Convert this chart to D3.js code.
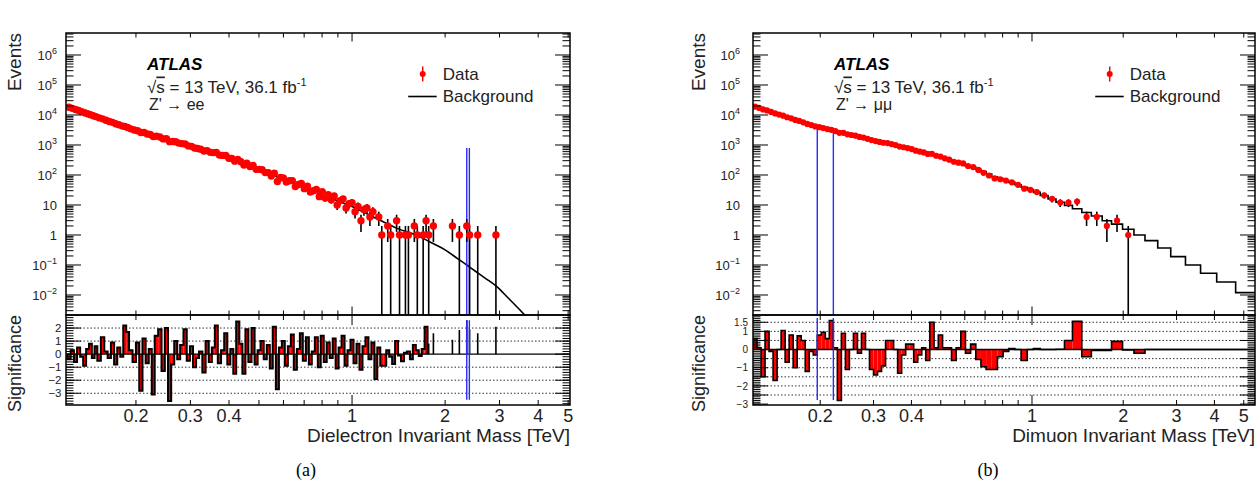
<!DOCTYPE html>
<html>
<head>
<meta charset="utf-8">
<script src="https://cdn.jsdelivr.net/npm/d3@7"></script>
<style>
  html, body { margin: 0; padding: 0; background: #fff; }
  svg { display: block; font-family: "Liberation Sans", Arial, sans-serif; }
</style>
</head>
<body>
<svg id="chart" width="1260" height="492"></svg>
<script>
// ---------- dielectron (a) ----------
// bin edges in GeV
var eeEdgesGeV = [120,123,126,129,132,135,138,141,144,147,150,154,158,162,166,170,174,178,182,186,
  190,195,200,205,210,215,220,225,230,236,242,248,254,260,266,272,278,285,292,299,
  306,313,320,328,336,344,352,360,368,377,386,395,404,413,422,432,442,452,462,473,
  484,495,506,518,530,542,554,567,580,593,606,620,634,648,663,678,693,709,725,741,
  758,775,792,810,828,847,866,885,905,925,946,967,989,1011,1034,1057,1081,1105,1130,1155,
  1181,1207,1234,1262,1290,1319,1348,1378,1409,1440,1472,1505,1539,1573,1608,1644,1680,1717,1755];
var eeEvents = [18150,16670,15200,14090,12890,11810,11050,10270,9410,8830,
  8025,7450,6716,6097,5677,5093,4764,4347,4170,3824,
  3458,3146,2989,2594,2600,2336,2229,1919,1971,1850,
  1597,1608,1294,1311,1285,1156,1113,1077,931,901,
  795,763,725,634,649,568,557,560,461,450,
  446,363,353,289,330,275,216,246,191,208,
  154,154,149,120,120,93,115,61,83,80,
  58,64,65,41,48,52,35,42,27,30,
  33,19,28,17,22,15,20,10,14,16,
  8,11,12,6,9,3,7,8,4,6,
  0,4,1,0,2,1,0,3,1,0,
  1,1,0,2,1,0,1,3];
var eeSignif = [-0.4,0.3,-0.6,0.5,-0.2,-0.9,0.4,0.8,-0.3,0.6,
  -0.5,1.3,0.2,-0.3,0.9,-0.8,0.5,-0.2,2.2,1.7,
  0.3,-0.6,0.9,-2.8,1.2,-0.7,0.4,-3.1,1.4,1.9,
  -1.3,2.0,-3.6,-0.8,1.0,-0.4,0.7,1.9,-0.5,0.6,
  -1.0,-0.3,0.2,-1.4,1.0,-0.6,0.5,2.2,-0.7,0.3,
  1.6,-0.8,0.4,-1.5,2.5,0.8,-1.5,1.9,-0.6,2.0,
  -0.8,0.3,1.0,-0.4,0.7,-1.1,2.1,-2.7,0.5,1.0,
  -0.9,0.6,1.5,-1.2,0.4,1.6,-0.5,1.3,-0.8,0.2,
  1.3,-1.0,1.4,-0.6,0.9,-0.3,1.2,-1.1,0.5,1.4,
  -0.9,0.3,1.1,-0.7,0.8,-1.2,0.6,1.3,-0.4,0.9,
  -1.9,0.5,-0.9,-0.9,0.3,-0.2,-0.75,1.0,-0.1,-0.55,
  0.1,0.2,-0.4,0.7,0.3,-0.15,0.4,2.1];
// isolated high-mass events (TeV)
var eeTailMass = [1.77, 1.833, 2.112, 2.224, 2.35, 2.40, 2.55, 2.92];
var eeTailEvents = [1, 2, 2, 1, 2, 1, 1, 1];
var eeTailSignif = [0.8, 1.6, 1.1, 1.85, 2.6, 1.9, 1.6, 2.1];
// smooth background curve
var eeBkgMass = [0.12, 0.19, 0.239, 0.393, 0.571, 0.828, 1.0, 1.2, 1.4, 1.66, 1.8, 2.0, 2.2, 2.35, 2.5, 2.7, 2.94, 3.2, 3.45, 3.7];
var eeBkgEvents = [19050, 3550, 1780, 407, 87, 19, 8.9, 3.55, 1.66, 0.87, 0.56, 0.32, 0.16, 0.10, 0.063, 0.036, 0.019, 0.0079, 0.0036, 0.0017];
var eeBumpMass = [2.35, 2.396];
var eeBumpTop = [800, 800];
var eeBumpSig = [2.6, -3.5];

// ---------- dimuon (b) ----------
var mmEdges = [0.12,0.12372,0.12756,0.13151,0.13559,0.13979,0.14412,0.14859,0.1532,0.15795,
  0.16285,0.16789,0.1731,0.17847,0.184,0.1897,0.19558,0.20165,0.2079,0.21434,
  0.22099,0.22784,0.2349,0.24218,0.24969,0.25743,0.26541,0.27364,0.28213,0.29087,
  0.29989,0.30919,0.31877,0.32865,0.33884,0.34935,0.36018,0.37134,0.38285,0.39472,
  0.40696,0.41958,0.43258,0.44599,0.45982,
  0.4750,0.4906,0.5068,0.5235,0.5424,0.5619,0.5821,0.6031,0.6272,0.6523,
  0.6784,0.7055,0.7365,0.7689,0.8028,0.8381,0.8783,0.9205,0.9647,1.0110,
  1.0646,1.13,1.20,1.28,1.36,1.46,1.57,1.705,1.83,1.99,2.17,2.36,2.60,2.87,3.21,3.60,4.07,4.70,5.445];
var mmBkg = [18970,17140,15490,14030,12680,11460,10350,9380,8470,7660,6920,6270,5660,5120,4620,4190,
  3890,3610,3360,3120,2900,2690,2490,2320,2150,2000,1860,1730,
  1610,1500,1400,1310,1220,1140,1060,991,925,
  851,783,721,665,612,564,519,
  475,436,396,357,321,286,256,228,202,179,154,129,107,87.5,75.9,65.8,56.8,47.4,39.2,32.4,
  26.4,20.6,15.8,12.4,9.7,
  7.5,5.6,4.3,3.0,2.3,1.55,1.0,0.65,0.37,0.19,0.10,0.053,0.027,0.012];
var mmEvents = [19050,17150,15300,14150,12670,11280,10350,9480,8410,7730,6840,6330,5700,5030,4610,4170,
  3940,3670,3395,3210,2905,2545,2535,2267,2150,2040,1851,1767,
  1610,1457,1348,1267,1189,1157,1076,991,885,
  842,791,729,647,605,566,505,
  508,438,412,359,323,276,258,243,199,183,147,118,96,77,72,65,57,47,35,32,
  27,21,16,12,12,
  13,4,4,2,3,1,0,0,0,0,0,0,0,0];
var mmSignif = [0.6,0.1,-1.5,1.0,-0.1,-1.7,0,1.05,-0.7,0.8,-1.0,0.75,0.5,-1.2,-0.1,-0.3,
  0.8,0.95,0.6,1.6,0.1,-2.8,0.9,-1.1,0,0.9,-0.2,0.9,
  0,-1.1,-1.4,-1.2,-0.9,0.5,0.5,0,-1.3,
  -0.3,0.3,0.3,-0.7,-0.3,0.1,-0.6,
  1.5,0.1,0.8,0.1,0.1,-0.6,0.1,1.0,-0.2,0.3,-0.55,-0.95,-1.1,-1.1,-0.4,-0.1,0.05,0.0,-0.6,0.0,
  0.05,0.0,0.0,0.02,0.5,
  1.55,-0.4,-0.05,-0.05,0.45,-0.02,-0.2,0,0,0,0,0,0,0];
var mmBumpMass = [0.19558, 0.22099];
var mmBumpTop = [4070, 3310];
var mmBumpSig = [1.73, -2.78];

// ---------- axes ----------
var xTickLabels = [0.2, 0.3, 0.4, 1, 2, 3, 4, 5];
var xMajorTicks = [1];
var xMinorTicks = [0.2, 0.3, 0.4, 0.5, 0.6, 0.7, 0.8, 0.9, 2, 3, 4, 5];
var yDecades = [-2, -1, 0, 1, 2, 3, 4, 5, 6];
var eeSigLabels = [2, 1, 0, -1, -2, -3];
var eeSigGrid = [2, 1, -1, -2, -3];
var mmSigLabels = [1.5, 1, 0, -1, -2, -3];
var mmSigGrid = [1.5, 1, 0.5, -0.5, -1, -1.5, -2, -2.5];

var svg = d3.select('#chart');
var mainTop = 33, mainBottom = 315, padTop = 315, padBottom = 405;
var yMin = Math.pow(10, -2.667), yMax = Math.pow(10, 6.733);
var minus = '\u2212';

function buildBins(edges, events, signif, bkg) {
  return events.map(function(n, i) {
    return { lo: edges[i], hi: edges[i + 1], mid: Math.sqrt(edges[i] * edges[i + 1]),
             n: n, s: signif[i], b: bkg ? bkg[i] : null };
  });
}

function drawPanel(p) {
  var x = d3.scaleLog().domain(p.xDomain).range([p.left, p.right]);
  var y = d3.scaleLog().domain([yMin, yMax]).range([mainBottom, mainTop]);
  var ys = d3.scaleLinear().domain(p.sigDomain).range([padBottom, padTop]);
  var w = p.right - p.left;

  var defs = svg.append('defs');
  defs.append('clipPath').attr('id', p.id + 'Main').append('rect')
    .attr('x', p.left).attr('y', mainTop).attr('width', w).attr('height', mainBottom - mainTop);
  defs.append('clipPath').attr('id', p.id + 'Pad').append('rect')
    .attr('x', p.left).attr('y', padTop).attr('width', w).attr('height', padBottom - padTop);

  var main = svg.append('g').attr('clip-path', 'url(#' + p.id + 'Main)');
  var pad = svg.append('g').attr('clip-path', 'url(#' + p.id + 'Pad)');

  // background
  if (p.bkgCurve) {
    var line = d3.line()
      .x(function(d) { return x(d[0]); })
      .y(function(d) { return y(d[1]); })
      .curve(d3.curveMonotoneX);
    main.append('path').datum(d3.zip(p.bkgCurve.mass, p.bkgCurve.events))
      .attr('d', line).attr('fill', 'none').attr('stroke', '#000').attr('stroke-width', 1.6);
  } else {
    var dStep = '';
    p.bins.forEach(function(b, i) {
      var yy = y(b.b);
      dStep += (i === 0 ? 'M' + x(b.lo) + ',' + yy : 'V' + yy) + 'H' + x(b.hi);
    });
    main.append('path').attr('d', dStep).attr('fill', 'none')
      .attr('stroke', '#000').attr('stroke-width', 1.6);
  }

  // bump interval
  p.bumpMass.forEach(function(m, i) {
    main.append('line').attr('x1', x(m)).attr('x2', x(m))
      .attr('y1', y(p.bumpTop[i])).attr('y2', mainBottom)
      .attr('stroke', '#2a2aff').attr('stroke-width', 1.4);
  });

  // data
  var pts = p.bins.filter(function(b) { return b.n > 0; })
    .map(function(b) { return { m: b.mid, n: b.n }; });
  if (p.tail) {
    p.tail.mass.forEach(function(m, i) { pts.push({ m: m, n: p.tail.events[i] }); });
  }
  main.selectAll('line.err').data(pts).enter().append('line')
    .attr('x1', function(d) { return x(d.m); })
    .attr('x2', function(d) { return x(d.m); })
    .attr('y1', function(d) { return y(d.n + Math.sqrt(d.n)); })
    .attr('y2', function(d) {
      var lo = d.n - Math.sqrt(d.n);
      return lo > yMin ? y(lo) : mainBottom;
    })
    .attr('stroke', '#000').attr('stroke-width', 1.6);
  main.selectAll('circle.pt').data(pts).enter().append('circle')
    .attr('cx', function(d) { return x(d.m); })
    .attr('cy', function(d) { return y(d.n); })
    .attr('r', p.markerR).attr('fill', '#ff0000');

  // ---- significance pad ----
  pad.selectAll('line.grid').data(p.sigGrid).enter().append('line')
    .attr('x1', p.left).attr('x2', p.right)
    .attr('y1', function(d) { return ys(d); }).attr('y2', function(d) { return ys(d); })
    .attr('stroke', '#333').attr('stroke-width', 1).attr('stroke-dasharray', '1.5,2');

  pad.selectAll('rect.bar').data(p.bins).enter().append('rect')
    .attr('x', function(b) { return x(b.lo); })
    .attr('width', function(b) { return x(b.hi) - x(b.lo); })
    .attr('y', function(b) { return Math.min(ys(0), ys(b.s)); })
    .attr('height', function(b) { return Math.abs(ys(b.s) - ys(0)); })
    .attr('fill', '#ff0000');

  pad.append('line').attr('x1', p.left).attr('x2', p.right)
    .attr('y1', ys(0)).attr('y2', ys(0)).attr('stroke', '#000').attr('stroke-width', 1.4);

  var dOut = 'M' + x(p.bins[0].lo) + ',' + ys(0);
  p.bins.forEach(function(b) { dOut += 'V' + ys(b.s) + 'H' + x(b.hi); });
  dOut += 'V' + ys(0);
  pad.append('path').attr('d', dOut).attr('fill', 'none')
    .attr('stroke', '#000').attr('stroke-width', p.outlineW);

  if (p.tail) {
    p.tail.mass.forEach(function(m, i) {
      pad.append('line').attr('x1', x(m)).attr('x2', x(m))
        .attr('y1', ys(0)).attr('y2', ys(p.tail.signif[i]))
        .attr('stroke', '#000').attr('stroke-width', 1.6);
    });
  }

  p.bumpMass.forEach(function(m) {
    pad.append('line').attr('x1', x(m)).attr('x2', x(m))
      .attr('y1', ys(p.bumpSig[0])).attr('y2', ys(p.bumpSig[1]))
      .attr('stroke', '#2a2aff').attr('stroke-width', 1.4);
  });

  // ---- frames and ticks ----
  var t = '';
  function v(xx, y0, len) { t += 'M' + xx + ',' + y0 + 'v' + len; }
  function h(yy, x0, len) { t += 'M' + x0 + ',' + yy + 'h' + len; }
  xMinorTicks.forEach(function(val) {
    var xx = x(val);
    v(xx, mainTop, 4.5); v(xx, mainBottom, -4.5);
    v(xx, padTop, 5); v(xx, padBottom, -5);
  });
  xMajorTicks.forEach(function(val) {
    var xx = x(val);
    v(xx, mainTop, 8.5); v(xx, mainBottom, -8.5);
    v(xx, padTop, 10); v(xx, padBottom, -10);
  });
  yDecades.forEach(function(k) {
    var yy = y(Math.pow(10, k));
    h(yy, p.left, 15); h(yy, p.right, -15);
  });
  for (var k = -3; k <= 6; k++) {
    for (var j = 2; j <= 9; j++) {
      var val = j * Math.pow(10, k);
      if (val > yMin && val < yMax) {
        var yy = y(val);
        h(yy, p.left, 7.5); h(yy, p.right, -7.5);
      }
    }
  }
  d3.range(Math.ceil(p.sigDomain[0] / p.sigMinor) * p.sigMinor, p.sigDomain[1], p.sigMinor)
    .forEach(function(val) {
      var yy = ys(val);
      h(yy, p.left, 7.5); h(yy, p.right, -7.5);
    });
  d3.range(Math.ceil(p.sigDomain[0] / p.sigMajor) * p.sigMajor, p.sigDomain[1], p.sigMajor)
    .forEach(function(val) {
      var yy = ys(val);
      h(yy, p.left, 15); h(yy, p.right, -15);
    });
  svg.append('path').attr('d', t).attr('fill', 'none').attr('stroke', '#000').attr('stroke-width', 1);

  svg.append('rect').attr('x', p.left).attr('y', mainTop).attr('width', w)
    .attr('height', mainBottom - mainTop).attr('fill', 'none').attr('stroke', '#000').attr('stroke-width', 1.5);
  svg.append('rect').attr('x', p.left).attr('y', padTop).attr('width', w)
    .attr('height', padBottom - padTop).attr('fill', 'none').attr('stroke', '#000').attr('stroke-width', 1.5);

  // ---- labels ----
  var lab = svg.append('g').attr('fill', '#222');
  xTickLabels.forEach(function(val) {
    lab.append('text').attr('x', x(val)).attr('y', 421.5).attr('text-anchor', 'middle')
      .attr('font-size', 18).text(String(val));
  });
  yDecades.forEach(function(k) {
    var tx = lab.append('text').attr('x', p.yLabelRight).attr('y', y(Math.pow(10, k)) + 4.7)
      .attr('text-anchor', 'end').attr('font-size', 13);
    if (k === 0) tx.text('1');
    else if (k === 1) tx.text('10');
    else {
      tx.append('tspan').text('10');
      tx.append('tspan').attr('dy', -5.5).attr('font-size', 9)
        .text(k < 0 ? minus + (-k) : String(k));
    }
  });
  p.sigLabels.forEach(function(val) {
    lab.append('text').attr('x', p.sigLabelRight).attr('y', ys(val) + 3.6)
      .attr('text-anchor', 'end').attr('font-size', p.sigFont)
      .text(val < 0 ? minus + (-val) : String(val));
  });
  lab.append('text').attr('x', p.right).attr('y', 441.5).attr('text-anchor', 'end')
    .attr('font-size', 19).text(p.xTitle);
  lab.append('text').attr('transform', 'translate(' + p.titleX + ',' + mainTop + ') rotate(-90)')
    .attr('text-anchor', 'end').attr('font-size', 19).text('Events');
  lab.append('text').attr('transform', 'translate(' + p.titleX + ',' + padTop + ') rotate(-90)')
    .attr('text-anchor', 'end').attr('font-size', 18).text('Significance');

  // ATLAS label block
  var ax = p.left + 81;
  svg.append('text').attr('x', ax).attr('y', 70).attr('font-size', 17)
    .attr('font-weight', 'bold').attr('font-style', 'italic').text('ATLAS');
  var rs = lab.append('text').attr('x', ax).attr('y', 92.5).attr('font-size', 17);
  rs.append('tspan').text('\u221A');
  rs.append('tspan').attr('text-decoration', 'overline').text('s');
  rs.append('tspan').text(' = 13 TeV, 36.1 fb');
  rs.append('tspan').attr('dy', -7).attr('font-size', 11).text('-1');
  lab.append('text').attr('x', ax + 2).attr('y', 110).attr('font-size', 16)
    .text('Z\' \u2192 ' + p.channel);

  // legend
  var lx = p.left + 356.7;
  svg.append('line').attr('x1', lx).attr('x2', lx).attr('y1', 66.5).attr('y2', 81.5)
    .attr('stroke', '#ff0000').attr('stroke-width', 1.5);
  svg.append('circle').attr('cx', lx).attr('cy', 74).attr('r', 3).attr('fill', '#ff0000');
  lab.append('text').attr('x', lx + 20).attr('y', 80).attr('font-size', 17).text('Data');
  svg.append('line').attr('x1', lx - 14.5).attr('x2', lx + 14).attr('y1', 96.5).attr('y2', 96.5)
    .attr('stroke', '#000').attr('stroke-width', 1.6);
  lab.append('text').attr('x', lx + 20).attr('y', 102).attr('font-size', 17).text('Background');

  svg.append('text').attr('x', p.captionX).attr('y', 476).attr('text-anchor', 'middle')
    .attr('font-family', '"Liberation Serif", "Times New Roman", serif')
    .attr('font-size', 18).text(p.caption);
}

drawPanel({
  id: 'ee', left: 66, right: 570, xDomain: [0.1188, 5.07],
  sigDomain: [-3.9, 3.0], sigMajor: 1, sigMinor: 0.2, sigFont: 11.5,
  sigLabels: eeSigLabels, sigGrid: eeSigGrid,
  bins: buildBins(eeEdgesGeV.map(function(g) { return g / 1000; }), eeEvents, eeSignif, null),
  bkgCurve: { mass: eeBkgMass, events: eeBkgEvents },
  tail: { mass: eeTailMass, events: eeTailEvents, signif: eeTailSignif },
  bumpMass: eeBumpMass, bumpTop: eeBumpTop, bumpSig: eeBumpSig,
  markerR: 3.7, outlineW: 2,
  yLabelRight: 57, sigLabelRight: 61.5, titleX: 20.5,
  xTitle: 'Dielectron Invariant Mass [TeV]', channel: 'ee', caption: '(a)', captionX: 306
});

drawPanel({
  id: 'mm', left: 753, right: 1255, xDomain: [0.12, 5.445],
  sigDomain: [-3.05, 1.9], sigMajor: 0.5, sigMinor: 0.1, sigFont: 10,
  sigLabels: mmSigLabels, sigGrid: mmSigGrid,
  bins: buildBins(mmEdges, mmEvents, mmSignif, mmBkg),
  bkgCurve: null, tail: null,
  bumpMass: mmBumpMass, bumpTop: mmBumpTop, bumpSig: mmBumpSig,
  markerR: 3.1, outlineW: 1.6,
  yLabelRight: 740, sigLabelRight: 748, titleX: 705,
  xTitle: 'Dimuon Invariant Mass [TeV]', channel: '\u03BC\u03BC', caption: '(b)', captionX: 988
});
</script>
</body>
</html>
